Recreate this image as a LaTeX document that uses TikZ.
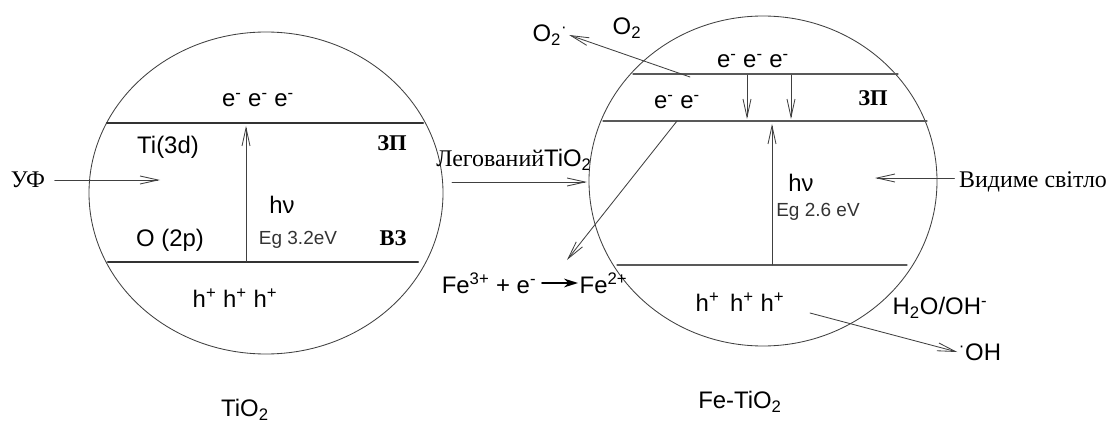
\documentclass[tikz,border=0pt]{standalone}
\usepackage{fontspec}
\setmainfont{Liberation Serif}
\newfontfamily\arialfont{Liberation Sans}
\usetikzlibrary{arrows.meta}

\begin{document}
\begin{tikzpicture}[x=0.025cm,y=-0.025cm,>={Straight Barb[length=4.5mm,width=2mm]},line cap=round,
  lbl/.style={font=\arialfont\fontsize{17}{20}\selectfont,inner sep=1pt},
  small/.style={font=\arialfont\fontsize{13.5}{16}\selectfont,text=black!80,inner sep=1pt},
  band/.style={font=\bfseries\fontsize{16}{19}\selectfont,inner sep=1pt},
  ua/.style={font=\fontsize{17}{20}\selectfont,inner sep=1pt},
  grain/.style={draw=black!75,semithick},
  thicklevel/.style={draw=black!80,line width=1.5pt},
  thinlevel/.style={draw=black!65,line width=0.9pt},
  ray/.style={->,draw=black!75,semithick}]
\useasboundingbox (0,0) rectangle (1110,426);
% undoped grain
\draw[grain] (266,193) ellipse [x radius=177, y radius=161];
\draw[thicklevel] (107,123) -- (423,123);
\draw[thicklevel] (108,262) -- (418,262);
\node[lbl] (eL) at (258,100) {e\textsuperscript{-} e\textsuperscript{-} e\textsuperscript{-}};
\node[lbl] (ti3d) at (168,147) {Ti(3d)};
\node[band] (zpL) at (392,143) {ЗП};
\node[ua] (uf) at (28,180) {УФ};
\node[lbl] (hvL) at (282,205) {hν};
\node[lbl] (o2p) at (170,240) {O (2p)};
\node[small] (egL) at (298,240) {Eg 3.2eV};
\node[band] (vz) at (393,238) {ВЗ};
\node[lbl] (hL) at (235,298) {h\textsuperscript{+} h\textsuperscript{+} h\textsuperscript{+}};
\node[lbl] (tio2) at (245,410) {TiO\textsubscript{2}};
\coordinate (ufend) at (160,180);
\coordinate (vbL) at (246,262);
\coordinate (cbL) at (246,126);
\draw[ray] (uf.east) ++(8,0) -- (ufend);
\draw[ray] (vbL) -- (cbL);
% doping
\node[ua,inner sep=0pt] (leg) at (514,160) {Легований\arialfont TiO\textsubscript{2}};
\coordinate (legA) at (452,182);
\coordinate (legB) at (587,182);
\draw[ray] (legA) -- (legB);
% doped grain
\draw[grain] (763,181) ellipse [x radius=174, y radius=165];
\draw[thinlevel] (633,74) -- (898,74);
\draw[thinlevel] (603,121) -- (927,121);
\draw[thinlevel] (617,265) -- (907,265);
\node[lbl] (eR3) at (753,61) {e\textsuperscript{-} e\textsuperscript{-} e\textsuperscript{-}};
\node[lbl] (eR2) at (677,102) {e\textsuperscript{-} e\textsuperscript{-}};
\node[band] (zpR) at (873,98) {ЗП};
\node[lbl] (hvR) at (801,183) {hν};
\node[small] (egR) at (818,212) {Eg 2.6 eV};
\node[ua] (vis) at (1033,182) {Видиме світло};
\node[lbl] (o2) at (627,28) {O\textsubscript{2}};
\node[lbl] (o2rad) at (550,35) {O\textsubscript{2}\textsuperscript{·}};
\node[lbl,anchor=east] (fe3) at (538,283) {Fe\textsuperscript{3+} + e\textsuperscript{-}};
\node[lbl,anchor=west] (fe2) at (578,283) {Fe\textsuperscript{2+}};
\node[lbl] (hR) at (740,302) {h\textsuperscript{+}\, h\textsuperscript{+} h\textsuperscript{+}};
\node[lbl] (h2o) at (940,308) {H\textsubscript{2}O/OH\textsuperscript{-}};
\node[lbl] (oh) at (980,352) {\textsuperscript{·}OH};
\node[lbl] (fetio2) at (740,402) {Fe-TiO\textsubscript{2}};
\coordinate (dn1a) at (747,75);
\coordinate (dn1b) at (747,119);
\coordinate (dn2a) at (791,75);
\coordinate (dn2b) at (791,119);
\coordinate (vbR) at (772,265);
\coordinate (cbR) at (772,124);
\coordinate (visend) at (875,178);
\coordinate (o2start) at (690,77);
\coordinate (trapstart) at (677,121);
\coordinate (trapend) at (567,260);
\coordinate (hstart) at (810,313);
\draw[ray] (dn1a) -- (dn1b);
\draw[ray] (dn2a) -- (dn2b);
\draw[ray] (vbR) -- (cbR);
\draw[ray] (vis.west) ++(-3,-4) -- (visend);
\draw[ray] (o2start) -- (o2rad.east);
\draw[ray] (trapstart) -- (trapend);
\draw[ray] (hstart) -- (oh.west);
\draw[-{Stealth[length=3.5mm,width=2.2mm]},line width=1.2pt] (fe3.east) ++(4,0) -- (fe2.west);
\end{tikzpicture}
\end{document}
